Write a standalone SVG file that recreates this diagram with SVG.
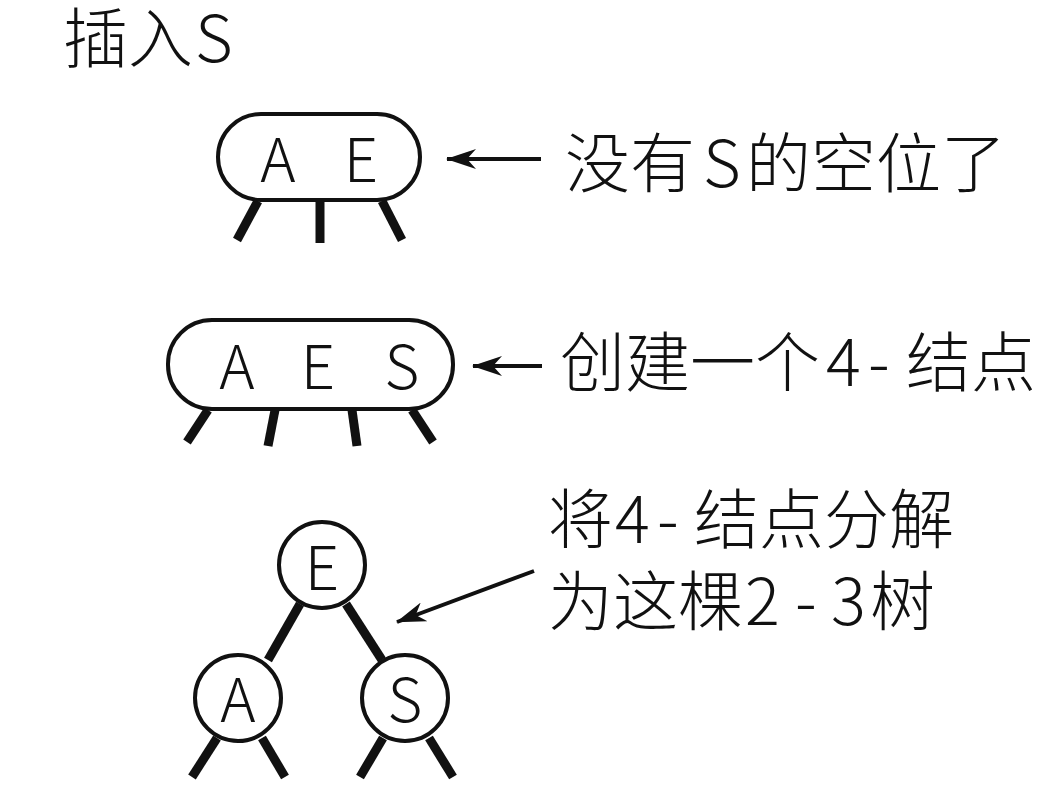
<svg xmlns="http://www.w3.org/2000/svg" width="1054" height="810" viewBox="0 0 1054 810">
<style>
.t{font-family:"Noto Sans CJK SC","Liberation Sans",sans-serif;font-weight:300;fill:#111}
.lbl{font-size:65px}
.key{font-size:60px;text-anchor:middle}
.shape{fill:none;stroke:#111;stroke-width:4}
.leg{stroke:#111;stroke-width:9;stroke-linecap:butt}
.arr{stroke:#111;stroke-width:4;fill:none}
</style>
<defs>
<marker id="ah" viewBox="0 0 30 20" refX="29" refY="10" markerWidth="30" markerHeight="20" markerUnits="userSpaceOnUse" orient="auto">
<path d="M30,10 L0,0 L9,10 L0,20 Z" fill="#111"/>
</marker>
</defs>
<rect width="1054" height="810" fill="#fff"/>
<text class="t lbl" y="62"><tspan x="63">插入</tspan><tspan x="195">S</tspan></text>
<g id="node1">
<rect class="shape" x="218" y="114" width="202" height="86" rx="43"/>
<text class="t key" x="278" y="182">A</text>
<text class="t key" x="361" y="182">E</text>
<line class="leg" x1="258" y1="201" x2="237" y2="240"/>
<line class="leg" x1="320" y1="201" x2="320" y2="243"/>
<line class="leg" x1="382" y1="201" x2="402" y2="240"/>
</g>
<g id="node2">
<rect class="shape" x="168" y="320" width="285" height="89" rx="44"/>
<text class="t key" x="237" y="389">A</text>
<text class="t key" x="318" y="389">E</text>
<text class="t key" x="402" y="389">S</text>
<line class="leg" x1="208" y1="410" x2="187" y2="442"/>
<line class="leg" x1="275" y1="410" x2="268" y2="446"/>
<line class="leg" x1="352" y1="410" x2="357" y2="446"/>
<line class="leg" x1="412" y1="410" x2="433" y2="442"/>
</g>
<g id="nodeE">
<circle class="shape" cx="322" cy="565" r="43"/>
<text class="t key" x="322" y="590">E</text>
</g>
<g id="nodeA">
<circle class="shape" cx="238" cy="698" r="43"/>
<text class="t key" x="238" y="722">A</text>
<line class="leg" x1="217" y1="738" x2="192" y2="777"/>
<line class="leg" x1="262" y1="738" x2="285" y2="777"/>
</g>
<g id="nodeS">
<circle class="shape" cx="405" cy="698" r="43"/>
<text class="t key" x="405" y="722">S</text>
<line class="leg" x1="383" y1="738" x2="360" y2="777"/>
<line class="leg" x1="429" y1="738" x2="453" y2="777"/>
</g>
<g id="connectors">
<line class="leg" x1="300" y1="604" x2="268" y2="660"/>
<line class="leg" x1="346" y1="604" x2="382" y2="660"/>
<line class="arr" x1="541" y1="159" x2="447" y2="159" marker-end="url(#ah)"/>
<line class="arr" x1="542" y1="366" x2="473" y2="366" marker-end="url(#ah)"/>
<line class="arr" x1="534" y1="571" x2="397" y2="622" marker-end="url(#ah)"/>
</g>
<g id="labels">
<text class="t lbl" y="187"><tspan x="565">没有</tspan><tspan x="703">S</tspan><tspan x="746">的空位了</tspan></text>
<text class="t lbl" y="386"><tspan x="560">创建一个</tspan><tspan x="826">4</tspan><tspan x="868">-</tspan><tspan x="906">结点</tspan></text>
<text class="t lbl" y="543"><tspan x="548">将</tspan><tspan x="615">4</tspan><tspan x="657">-</tspan><tspan x="694">结点分解</tspan></text>
<text class="t lbl" y="625"><tspan x="548">为这棵</tspan><tspan x="745">2</tspan><tspan x="795">-</tspan><tspan x="831">3</tspan><tspan x="870">树</tspan></text>
</g>
</svg>
